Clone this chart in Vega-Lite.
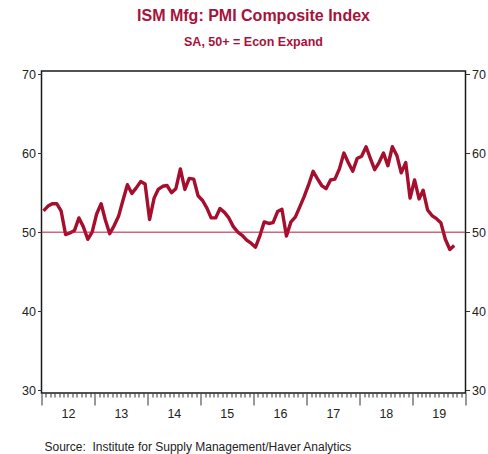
{
  "$schema": "https://vega.github.io/schema/vega-lite/v6.json",
  "width": 424,
  "height": 322,
  "autosize": {"type": "none"},
  "padding": {"left": 41.5, "top": 71, "right": 22.5, "bottom": 61},
  "background": "white",
  "config": {
    "view": {"stroke": "#1a1a1a", "strokeWidth": 1.5},
    "font": "Liberation Sans"
  },
  "title": {
    "text": "ISM Mfg: PMI Composite Index",
    "subtitle": "SA, 50+ = Econ Expand",
    "color": "#a8123a",
    "subtitleColor": "#a8123a",
    "font": "Liberation Sans",
    "fontSize": 16,
    "fontWeight": "bold",
    "subtitleFont": "Liberation Sans",
    "subtitleFontSize": 12.5,
    "subtitleFontWeight": "bold",
    "subtitlePadding": 12,
    "offset": 20,
    "anchor": "middle"
  },
  "resolve": {"scale": {"y": "independent"}},
  "layer": [
    {
      "data": {"values": [
        {"date": "2012-01-15", "pmi": 52.7}, {"date": "2012-02-15", "pmi": 53.3}, {"date": "2012-03-15", "pmi": 53.6}, {"date": "2012-04-15", "pmi": 53.6},
        {"date": "2012-05-15", "pmi": 52.7}, {"date": "2012-06-15", "pmi": 49.7}, {"date": "2012-07-15", "pmi": 49.9}, {"date": "2012-08-15", "pmi": 50.2},
        {"date": "2012-09-15", "pmi": 51.8}, {"date": "2012-10-15", "pmi": 50.7}, {"date": "2012-11-15", "pmi": 49.1}, {"date": "2012-12-15", "pmi": 50.0},
        {"date": "2013-01-15", "pmi": 52.3}, {"date": "2013-02-15", "pmi": 53.6}, {"date": "2013-03-15", "pmi": 51.6}, {"date": "2013-04-15", "pmi": 49.8},
        {"date": "2013-05-15", "pmi": 50.8}, {"date": "2013-06-15", "pmi": 52.0}, {"date": "2013-07-15", "pmi": 54.0}, {"date": "2013-08-15", "pmi": 56.0},
        {"date": "2013-09-15", "pmi": 54.9}, {"date": "2013-10-15", "pmi": 55.6}, {"date": "2013-11-15", "pmi": 56.4}, {"date": "2013-12-15", "pmi": 56.1},
        {"date": "2014-01-15", "pmi": 51.6}, {"date": "2014-02-15", "pmi": 54.3}, {"date": "2014-03-15", "pmi": 55.4}, {"date": "2014-04-15", "pmi": 55.8},
        {"date": "2014-05-15", "pmi": 55.9}, {"date": "2014-06-15", "pmi": 55.0}, {"date": "2014-07-15", "pmi": 55.5}, {"date": "2014-08-15", "pmi": 58.0},
        {"date": "2014-09-15", "pmi": 55.4}, {"date": "2014-10-15", "pmi": 56.8}, {"date": "2014-11-15", "pmi": 56.7}, {"date": "2014-12-15", "pmi": 54.6},
        {"date": "2015-01-15", "pmi": 54.0}, {"date": "2015-02-15", "pmi": 53.0}, {"date": "2015-03-15", "pmi": 51.8}, {"date": "2015-04-15", "pmi": 51.8},
        {"date": "2015-05-15", "pmi": 53.0}, {"date": "2015-06-15", "pmi": 52.5}, {"date": "2015-07-15", "pmi": 51.8}, {"date": "2015-08-15", "pmi": 50.7},
        {"date": "2015-09-15", "pmi": 50.0}, {"date": "2015-10-15", "pmi": 49.6}, {"date": "2015-11-15", "pmi": 49.0}, {"date": "2015-12-15", "pmi": 48.6},
        {"date": "2016-01-15", "pmi": 48.1}, {"date": "2016-02-15", "pmi": 49.6}, {"date": "2016-03-15", "pmi": 51.3}, {"date": "2016-04-15", "pmi": 51.1},
        {"date": "2016-05-15", "pmi": 51.2}, {"date": "2016-06-15", "pmi": 52.6}, {"date": "2016-07-15", "pmi": 52.9}, {"date": "2016-08-15", "pmi": 49.5},
        {"date": "2016-09-15", "pmi": 51.3}, {"date": "2016-10-15", "pmi": 51.9}, {"date": "2016-11-15", "pmi": 53.2}, {"date": "2016-12-15", "pmi": 54.5},
        {"date": "2017-01-15", "pmi": 56.0}, {"date": "2017-02-15", "pmi": 57.7}, {"date": "2017-03-15", "pmi": 56.8}, {"date": "2017-04-15", "pmi": 55.9},
        {"date": "2017-05-15", "pmi": 55.5}, {"date": "2017-06-15", "pmi": 56.6}, {"date": "2017-07-15", "pmi": 56.7}, {"date": "2017-08-15", "pmi": 58.0},
        {"date": "2017-09-15", "pmi": 60.0}, {"date": "2017-10-15", "pmi": 58.8}, {"date": "2017-11-15", "pmi": 57.7}, {"date": "2017-12-15", "pmi": 59.3},
        {"date": "2018-01-15", "pmi": 59.6}, {"date": "2018-02-15", "pmi": 60.8}, {"date": "2018-03-15", "pmi": 59.4}, {"date": "2018-04-15", "pmi": 57.9},
        {"date": "2018-05-15", "pmi": 58.8}, {"date": "2018-06-15", "pmi": 60.0}, {"date": "2018-07-15", "pmi": 58.4}, {"date": "2018-08-15", "pmi": 60.8},
        {"date": "2018-09-15", "pmi": 59.7}, {"date": "2018-10-15", "pmi": 57.5}, {"date": "2018-11-15", "pmi": 58.8}, {"date": "2018-12-15", "pmi": 54.3},
        {"date": "2019-01-15", "pmi": 56.6}, {"date": "2019-02-15", "pmi": 54.2}, {"date": "2019-03-15", "pmi": 55.3}, {"date": "2019-04-15", "pmi": 52.8},
        {"date": "2019-05-15", "pmi": 52.1}, {"date": "2019-06-15", "pmi": 51.7}, {"date": "2019-07-15", "pmi": 51.2}, {"date": "2019-08-15", "pmi": 49.1},
        {"date": "2019-09-15", "pmi": 47.8}, {"date": "2019-10-15", "pmi": 48.3}
      ]},
      "mark": {"type": "line", "color": "#a50f2d", "strokeWidth": 3.4, "strokeJoin": "round", "clip": true},
      "encoding": {
        "x": {
          "field": "date",
          "type": "temporal",
          "scale": {"domain": [{"year": 2012, "month": 1, "date": 1}, {"year": 2020, "month": 1, "date": 1}]},
          "axis": {
            "tickCount": {"interval": "month", "step": 1},
            "labelExpr": "month(datum.value) == 6 ? timeFormat(datum.value, '%y') : ''",
            "tickSize": {"condition": {"test": "month(datum.value) == 0", "value": 12}, "value": 4},
            "tickColor": "#333333",
            "tickWidth": 1,
            "domain": false,
            "grid": false,
            "labelOverlap": false,
            "labelFlush": false,
            "labelFont": "Liberation Sans",
            "labelFontSize": 12.5,
            "labelColor": "#222222",
            "labelPadding": 10,
            "title": "Source:\u00a0 Institute for Supply Management/Haver Analytics",
            "titleFont": "Liberation Sans",
            "titleFontSize": 12,
            "titleFontWeight": "normal",
            "titleColor": "#222222",
            "titleAnchor": "start",
            "titleAlign": "left",
            "titleBaseline": "alphabetic",
            "titleX": 2.5,
            "titleY": 57
          }
        },
        "y": {
          "field": "pmi",
          "type": "quantitative",
          "scale": {"domain": [29.66, 70.38], "nice": false, "zero": false},
          "axis": {
            "orient": "left",
            "values": [30, 40, 50, 60, 70],
            "title": null,
            "grid": false,
            "domain": false,
            "tickSize": 4,
            "tickColor": "#333333",
            "labelFont": "Liberation Sans",
            "labelFontSize": 12.5,
            "labelColor": "#222222",
            "labelPadding": 2
          }
        }
      }
    },
    {
      "data": {"values": [{"ref": 50}]},
      "mark": {"type": "rule", "color": "#c0143c", "strokeWidth": 1},
      "encoding": {
        "y": {
          "field": "ref",
          "type": "quantitative",
          "scale": {"domain": [29.66, 70.38], "nice": false, "zero": false},
          "axis": {
            "orient": "right",
            "values": [30, 40, 50, 60, 70],
            "title": null,
            "grid": false,
            "domain": false,
            "tickSize": 4,
            "tickColor": "#333333",
            "labelFont": "Liberation Sans",
            "labelFontSize": 12.5,
            "labelColor": "#222222",
            "labelPadding": 2
          }
        }
      }
    }
  ]
}
